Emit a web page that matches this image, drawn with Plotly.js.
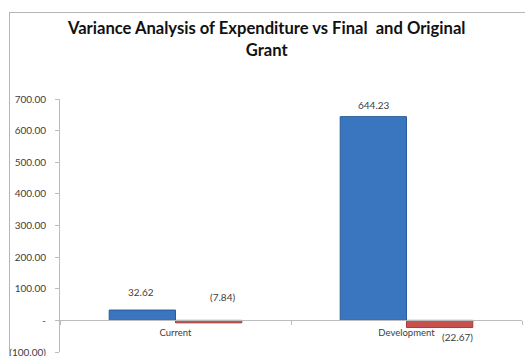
<!DOCTYPE html>
<html>
<head>
<meta charset="utf-8">
<script src="https://cdn.plot.ly/plotly-3.0.1.min.js"></script>
<style>
html,body{margin:0;padding:0;background:#fff;}
#wrap{position:relative;width:525px;height:356px;overflow:hidden;}
#chart{width:525px;height:356px;}
#frame{position:absolute;left:9px;top:12px;width:600px;height:400px;border-left:1px solid #b5b5b5;border-top:1px solid #b5b5b5;pointer-events:none;}
</style>
</head>
<body>
<div id="wrap"><div id="chart"></div><div id="frame"></div></div>
<script>
const categories = ["Current", "Development"];
const seriesFinal = [32.62, 644.23];
const seriesOriginal = [-7.84, -22.67];
const yTickVals = [-100, 0, 100, 200, 300, 400, 500, 600, 700];

function fmt(v) {
  if (v === 0) return "-";
  const s = Math.abs(v).toFixed(2);
  return v < 0 ? "(" + s + ")" : s;
}

const font = "Lato, 'Open Sans', sans-serif";

const traces = [
  {type: "bar", x: categories, y: seriesFinal, name: "Final",
   marker: {color: "#3A76C0", line: {color: "#2A5C97", width: 1}}, hoverinfo: "none"},
  {type: "bar", x: categories, y: seriesOriginal, name: "Original",
   marker: {color: "#C9504C", line: {color: "#A33D3A", width: 1}}, hoverinfo: "none"}
];

const labelShifts = {
  final: [[-2, 18], [0, 12]],
  original: [[14, 26], [18, -9]]
};

const annotations = [];
categories.forEach((c, i) => {
  annotations.push({x: c, y: seriesFinal[i], xref: "x", yref: "y", text: fmt(seriesFinal[i]),
    showarrow: false, xshift: -33 + labelShifts.final[i][0], yshift: labelShifts.final[i][1],
    font: {family: font, size: 10, color: "#404040"}});
  annotations.push({x: c, y: seriesOriginal[i], xref: "x", yref: "y", text: fmt(seriesOriginal[i]),
    showarrow: false, xshift: 33 + labelShifts.original[i][0], yshift: labelShifts.original[i][1],
    font: {family: font, size: 10, color: "#404040"}});
});

const layout = {
  width: 525, height: 356,
  margin: {l: 60, r: 3, t: 99, b: 4, pad: 0},
  paper_bgcolor: "#fff", plot_bgcolor: "rgba(0,0,0,0)",
  showlegend: false,
  barmode: "group", bargap: 0.426, bargroupgap: 0,
  title: {text: "Variance Analysis of Expenditure vs Final  and Original<br>Grant",
    font: {family: font, size: 16.6, color: "#111", weight: "bold"},
    x: 0.508, xref: "container", xanchor: "center",
    y: 1 - 34/356, yref: "container", yanchor: "top"},
  xaxis: {type: "category", range: [-0.5, 1.5], anchor: "free", position: 0.125,
    showline: true, linecolor: "#bcbcbc", linewidth: 1,
    ticks: "outside", tickson: "boundaries", ticklen: 4, tickcolor: "#bcbcbc",
    ticklabelstandoff: 3,
    showgrid: false, zeroline: false,
    tickfont: {family: font, size: 9.5, color: "#404040"}},
  yaxis: {range: [-100, 700], tickvals: yTickVals, ticktext: yTickVals.map(fmt),
    showline: true, linecolor: "#bcbcbc", linewidth: 1,
    ticks: "outside", ticklen: 4, tickcolor: "#bcbcbc",
    ticklabelstandoff: 7, ticklabeloverflow: "allow",
    showgrid: false, zeroline: false,
    tickfont: {family: font, size: 10, color: "#404040"}},
  annotations: annotations
};

Plotly.newPlot("chart", traces, layout, {displayModeBar: false, staticPlot: true});
</script>
</body>
</html>
